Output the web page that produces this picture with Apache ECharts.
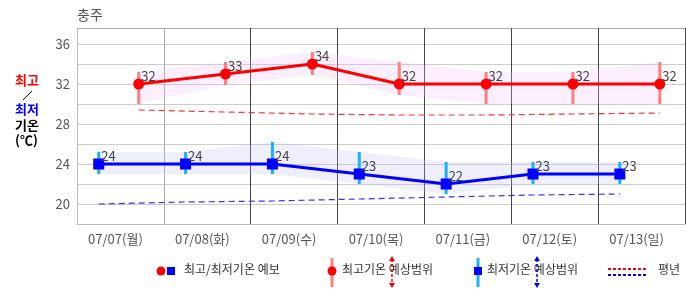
<!DOCTYPE html>
<html><head><meta charset="utf-8">
<script src="https://cdn.jsdelivr.net/npm/echarts@6/dist/echarts.min.js"></script>
<style>html,body{margin:0;padding:0;background:#fff}#c{width:686px;height:295px}</style>
</head><body><div id="c"></div>
<script>
const dates = ['07/07(월)','07/08(화)','07/09(수)','07/10(목)','07/11(금)','07/12(토)','07/13(일)'];
const maxTemp = [32,33,34,32,32,32,32];
const maxHigh = [33.2,34.2,35.2,34.2,33.2,33.2,34.2];
const maxLow  = [30.0,31.9,32.9,30.9,30.0,30.0,30.0];
const minTemp = [24,24,24,23,22,23,23];
const minHigh = [25.2,25.2,26.2,25.2,24.2,24.2,24.2];
const minLow  = [23.0,23.0,23.0,22.0,21.0,22.0,22.0];
const normalMax = [29.4,29.2,29.0,28.9,28.9,29.0,29.1];
const normalMin = [20.0,20.2,20.3,20.5,20.7,20.9,21.0];
const yTicks = [20,24,28,32,36];

const MAX_OFF = 0.71, MIN_OFF = 0.25;
const FONT = '"Noto Sans CJK KR", "Noto Sans", sans-serif';

const mx = i => i + MAX_OFF, mn = i => i + MIN_OFF;
const pts = (arr, f) => arr.map((v, i) => [f(i), v]);
const bandData = (hi, lo, f) => hi.slice(0, -1).map((v, i) => [f(i), v, lo[i], f(i + 1), hi[i + 1], lo[i + 1]]);
const rangeData = (hi, lo, f) => hi.map((v, i) => [f(i), lo[i], v]);

function bandSeries(data, fill) {
  return {
    type: 'custom', xAxisIndex: 1, silent: true, data, z: 1,
    renderItem: (p, api) => {
      const a = api.coord([api.value(0), api.value(1)]);
      const b = api.coord([api.value(3), api.value(4)]);
      const c = api.coord([api.value(3), api.value(5)]);
      const d = api.coord([api.value(0), api.value(2)]);
      return { type: 'polygon', shape: { points: [a, b, c, d] }, style: { fill } };
    }
  };
}
function rangeSeries(data, fill) {
  return {
    type: 'custom', xAxisIndex: 1, silent: true, data, z: 3,
    renderItem: (p, api) => {
      const t = api.coord([api.value(0), api.value(2)]);
      const b = api.coord([api.value(0), api.value(1)]);
      return { type: 'rect', shape: { x: t[0] - 1.5, y: t[1], width: 3, height: b[1] - t[1] }, style: { fill } };
    }
  };
}

const chart = echarts.init(document.getElementById('c'));
const legendText = (x, t) => ({ type: 'text', left: x, top: 263, style: { text: t, font: '12px ' + FONT, fill: '#333' } });
function arrow(x, color) {
  return [
    { type: 'line', shape: { x1: x, y1: 259, x2: x, y2: 285 }, style: { stroke: color, lineWidth: 1.5, lineDash: [3, 2] } },
    { type: 'polygon', shape: { points: [[x - 3, 261], [x + 3, 261], [x, 256]] }, style: { fill: color } },
    { type: 'polygon', shape: { points: [[x - 3, 283], [x + 3, 283], [x, 288]] }, style: { fill: color } }
  ];
}

chart.setOption({
  animation: false,
  grid: { left: 77, right: 1, top: 28, bottom: 71 },
  xAxis: [
    { type: 'category', data: dates, boundaryGap: true, position: 'bottom',
      axisLine: { lineStyle: { color: '#bbb' } }, axisTick: { show: false }, splitLine: { show: false },
      axisLabel: { color: '#555', fontSize: 13, fontFamily: FONT, margin: 9, padding: [0, 10, 0, 0] } },
    { type: 'value', min: 0, max: 7, interval: 1, position: 'top',
      axisLine: { show: false }, axisTick: { show: false }, axisLabel: { show: false },
      splitLine: { show: true, lineStyle: { color: ['#bbb', '#aaa', '#444', '#444', '#444', '#444', '#444', '#444'], width: 1 } } }
  ],
  yAxis: {
    type: 'value', min: 18, max: 37.6, interval: 2,
    axisLine: { show: true, lineStyle: { color: '#bbb' } }, axisTick: { show: false },
    axisLabel: { color: '#555', fontSize: 13, fontFamily: FONT, margin: 7,
      formatter: v => (yTicks.indexOf(v) >= 0 ? String(v) : '') },
    splitLine: { lineStyle: { color: ['#bbb', '#ccc', '#ccc', '#ccc', '#ccc', '#ccc', '#ccc', '#ccc', '#ccc', '#ccc', '#aaa'] } }
  },
  graphic: [
    { type: 'text', left: 77, top: 8, style: { text: '충주', font: '14px ' + FONT, fill: '#555' } },
    { type: 'text', left: 15, top: 74, style: { text: '최고', font: 'bold 13px ' + FONT, fill: '#f00' } },
    { type: 'line', shape: { x1: 23, y1: 100, x2: 32, y2: 91 }, style: { stroke: '#000', lineWidth: 1 } },
    { type: 'text', left: 15, top: 103, style: { text: '최저', font: 'bold 13px ' + FONT, fill: '#00f' } },
    { type: 'text', left: 15, top: 119, style: { text: '기온', font: 'bold 13px ' + FONT, fill: '#000' } },
    { type: 'text', left: 15, top: 134, style: { text: '(℃)', font: 'bold 13px ' + FONT, fill: '#000' } },
    { type: 'circle', shape: { cx: 161, cy: 271, r: 4.5 }, style: { fill: '#f00' } },
    { type: 'rect', shape: { x: 167, y: 267, width: 8, height: 8 }, style: { fill: '#00f' } },
    legendText(184, '최고/최저기온 예보'),
    { type: 'rect', shape: { x: 330.5, y: 258, width: 3, height: 29 }, style: { fill: '#ff7f7f' } },
    { type: 'circle', shape: { cx: 332, cy: 271, r: 4.5 }, style: { fill: '#f00' } },
    legendText(342, '최고기온 예상범위'),
    ...arrow(392, '#f00'),
    { type: 'rect', shape: { x: 476.5, y: 258, width: 3, height: 29 }, style: { fill: '#1ab0ff' } },
    { type: 'rect', shape: { x: 474, y: 267, width: 8, height: 8 }, style: { fill: '#00f' } },
    legendText(487, '최저기온 예상범위'),
    ...arrow(537, '#00f'),
    { type: 'line', shape: { x1: 608, y1: 269, x2: 648, y2: 269 }, style: { stroke: '#f00', lineWidth: 2, lineDash: [3, 2] } },
    { type: 'line', shape: { x1: 608, y1: 275, x2: 648, y2: 275 }, style: { stroke: '#00f', lineWidth: 2, lineDash: [3, 2] } },
    legendText(658, '평년')
  ],
  series: [
    bandSeries(bandData(maxHigh, maxLow, mx), 'rgba(240,190,250,0.25)'),
    bandSeries(bandData(minHigh, minLow, mn), 'rgba(190,190,245,0.25)'),
    { type: 'line', xAxisIndex: 1, data: pts(normalMax, mx), symbol: 'none', z: 2,
      lineStyle: { color: '#f33', width: 1.2, type: [6, 4] } },
    { type: 'line', xAxisIndex: 1, data: pts(normalMin, mn), symbol: 'none', z: 2,
      lineStyle: { color: '#33f', width: 1.2, type: [6, 4] } },
    rangeSeries(rangeData(maxHigh, maxLow, mx), '#ff7f7f'),
    rangeSeries(rangeData(minHigh, minLow, mn), '#1ab0ff'),
    { type: 'line', xAxisIndex: 1, data: pts(maxTemp, mx), symbol: 'circle', symbolSize: 11, z: 5,
      itemStyle: { color: '#f00' }, lineStyle: { color: '#f00', width: 3 },
      label: { show: true, position: [8, -9], formatter: p => p.value[1], color: '#444', fontSize: 13, fontFamily: FONT } },
    { type: 'line', xAxisIndex: 1, data: pts(minTemp, mn), symbol: 'rect', symbolSize: 11, z: 5,
      itemStyle: { color: '#00f' }, lineStyle: { color: '#00f', width: 3 },
      label: { show: true, position: [8, -9], formatter: p => p.value[1], color: '#444', fontSize: 13, fontFamily: FONT } }
  ]
});
</script></body></html>
